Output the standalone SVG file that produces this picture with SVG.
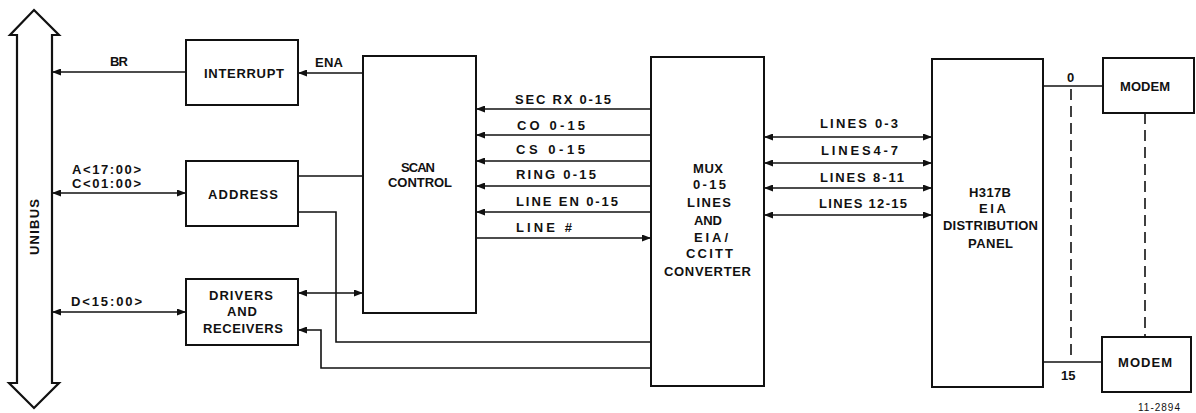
<svg xmlns="http://www.w3.org/2000/svg" width="1196" height="413" viewBox="0 0 1196 413">
<style>
.box{fill:#fff;stroke:#111;stroke-width:2}
.ln{fill:none;stroke:#111;stroke-width:1.6}
.dash{fill:none;stroke:#111;stroke-width:1.6;stroke-dasharray:11 6}
text{font-family:"Liberation Sans",Arial,sans-serif;font-weight:bold;font-size:13px;fill:#111}
.small{font-size:10px;font-weight:normal;letter-spacing:1px}
</style>
<defs>
<marker id="ah" markerUnits="userSpaceOnUse" markerWidth="9" markerHeight="7" refX="9" refY="3.5" orient="auto-start-reverse">
<path d="M0,0 L9,3.5 L0,7 z" fill="#111"/>
</marker>
</defs>

<g id="unibus">
<polygon points="34,10 59,35 52,35 52,383 59,383 34,408 9,383 17,383 17,35 10,35" fill="#fff" stroke="#111" stroke-width="2.2"/>
<text transform="translate(39,255) rotate(-90)" textLength="56" lengthAdjust="spacing">UNIBUS</text>
</g>

<g id="interrupt">
<rect class="box" x="186" y="40" width="112" height="65"/>
<text x="204" y="78" textLength="80" lengthAdjust="spacing">INTERRUPT</text>
</g>

<g id="address">
<rect class="box" x="186" y="161" width="112" height="65"/>
<text x="208" y="199" textLength="70" lengthAdjust="spacing">ADDRESS</text>
</g>

<g id="drivers">
<rect class="box" x="186" y="279" width="112" height="66"/>
<text x="209" y="300" textLength="64" lengthAdjust="spacing">DRIVERS</text>
<text x="227" y="316" textLength="30" lengthAdjust="spacing">AND</text>
<text x="203" y="333" textLength="80" lengthAdjust="spacing">RECEIVERS</text>
</g>

<g id="scan">
<rect class="box" x="363" y="56" width="113" height="257"/>
<text x="401" y="172" textLength="34" lengthAdjust="spacing">SCAN</text>
<text x="388" y="187" textLength="64" lengthAdjust="spacing">CONTROL</text>
</g>

<g id="mux">
<rect class="box" x="651" y="57" width="113" height="329"/>
<text x="693" y="173" textLength="30" lengthAdjust="spacing">MUX</text>
<text x="693" y="189" textLength="33" lengthAdjust="spacing">0-15</text>
<text x="687" y="207" textLength="44" lengthAdjust="spacing">LINES</text>
<text x="694" y="225" textLength="28" lengthAdjust="spacing">AND</text>
<text x="694" y="242" textLength="34" lengthAdjust="spacing">EIA/</text>
<text x="686" y="258" textLength="47" lengthAdjust="spacing">CCITT</text>
<text x="664" y="276" textLength="87" lengthAdjust="spacing">CONVERTER</text>
</g>

<g id="panel">
<rect class="box" x="932" y="59" width="111" height="328"/>
<text x="969" y="197" textLength="42" lengthAdjust="spacing">H317B</text>
<text x="979" y="213" textLength="27" lengthAdjust="spacing">EIA</text>
<text x="943" y="230" textLength="95" lengthAdjust="spacing">DISTRIBUTION</text>
<text x="968" y="248" textLength="45" lengthAdjust="spacing">PANEL</text>
</g>

<g id="modem0">
<rect class="box" x="1103" y="58" width="91" height="55"/>
<text x="1120" y="91" textLength="50" lengthAdjust="spacing">MODEM</text>
</g>

<g id="modem15">
<rect class="box" x="1102" y="337" width="89" height="55"/>
<text x="1118" y="367" textLength="54" lengthAdjust="spacing">MODEM</text>
</g>

<g id="connectors">
<line class="ln" x1="186" y1="72" x2="52" y2="72" marker-end="url(#ah)"/>
<line class="ln" x1="363" y1="73" x2="298" y2="73" marker-end="url(#ah)"/>
<line class="ln" x1="52" y1="193" x2="186" y2="193" marker-start="url(#ah)" marker-end="url(#ah)"/>
<line class="ln" x1="298" y1="176" x2="363" y2="176"/>
<polyline class="ln" points="298,212 336,212 336,342 651,342"/>
<line class="ln" x1="52" y1="312" x2="186" y2="312" marker-start="url(#ah)" marker-end="url(#ah)"/>
<line class="ln" x1="298" y1="293" x2="363" y2="293" marker-start="url(#ah)" marker-end="url(#ah)"/>
<polyline class="ln" points="651,368 321,368 321,330 298,330" marker-end="url(#ah)"/>

<line class="ln" x1="651" y1="109" x2="476" y2="109" marker-end="url(#ah)"/>
<line class="ln" x1="651" y1="135" x2="476" y2="135" marker-end="url(#ah)"/>
<line class="ln" x1="651" y1="161" x2="476" y2="161" marker-end="url(#ah)"/>
<line class="ln" x1="651" y1="186" x2="476" y2="186" marker-end="url(#ah)"/>
<line class="ln" x1="651" y1="212" x2="476" y2="212" marker-end="url(#ah)"/>
<line class="ln" x1="476" y1="238" x2="651" y2="238" marker-end="url(#ah)"/>

<line class="ln" x1="764" y1="137" x2="932" y2="137" marker-start="url(#ah)" marker-end="url(#ah)"/>
<line class="ln" x1="764" y1="163" x2="932" y2="163" marker-start="url(#ah)" marker-end="url(#ah)"/>
<line class="ln" x1="764" y1="188" x2="932" y2="188" marker-start="url(#ah)" marker-end="url(#ah)"/>
<line class="ln" x1="764" y1="215" x2="932" y2="215" marker-start="url(#ah)" marker-end="url(#ah)"/>

<line class="ln" x1="1043" y1="86" x2="1103" y2="86"/>
<line class="ln" x1="1043" y1="362" x2="1102" y2="362"/>
<line class="dash" x1="1071" y1="89" x2="1071" y2="360"/>
<line class="dash" x1="1145" y1="113" x2="1145" y2="337"/>
</g>

<g id="labels">
<text x="110" y="66" textLength="18" lengthAdjust="spacing">BR</text>
<text x="315" y="67" textLength="28" lengthAdjust="spacing">ENA</text>
<text x="72" y="174" textLength="69" lengthAdjust="spacing">A&lt;17:00&gt;</text>
<text x="72" y="188" textLength="69" lengthAdjust="spacing">C&lt;01:00&gt;</text>
<text x="71" y="306" textLength="71" lengthAdjust="spacing">D&lt;15:00&gt;</text>
<text x="515" y="104" textLength="96" lengthAdjust="spacing">SEC RX 0-15</text>
<text x="517" y="130" textLength="68" lengthAdjust="spacing">CO 0-15</text>
<text x="516" y="154" textLength="69" lengthAdjust="spacing">CS 0-15</text>
<text x="516" y="179" textLength="80" lengthAdjust="spacing">RING 0-15</text>
<text x="516" y="206" textLength="102" lengthAdjust="spacing">LINE EN 0-15</text>
<text x="516" y="232" textLength="56" lengthAdjust="spacing">LINE #</text>
<text x="820" y="128" textLength="78" lengthAdjust="spacing">LINES 0-3</text>
<text x="821" y="155" textLength="77" lengthAdjust="spacing">LINES4-7</text>
<text x="820" y="182" textLength="84" lengthAdjust="spacing">LINES 8-11</text>
<text x="819" y="208" textLength="88" lengthAdjust="spacing">LINES 12-15</text>
<text x="1067" y="82">0</text>
<text x="1061" y="380">15</text>
<text class="small" x="1138" y="411">11-2894</text>
</g>
</svg>
